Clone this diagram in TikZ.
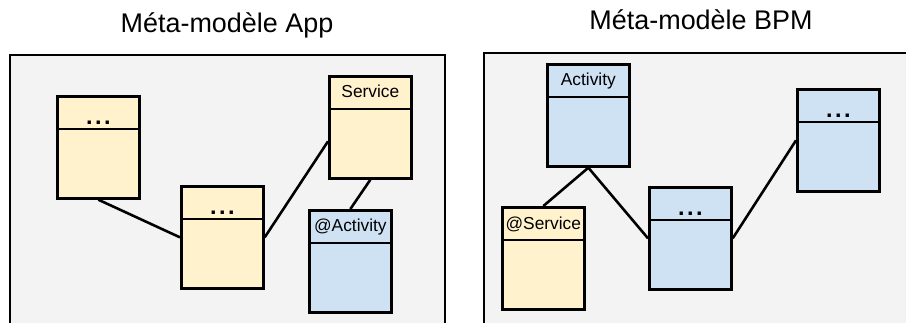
\documentclass[tikz,border=0pt]{standalone}
\usepackage{fontspec}
\setmainfont{Liberation Sans}
\usetikzlibrary{calc}
\definecolor{appyellow}{HTML}{FFF2CC}
\definecolor{bpmblue}{HTML}{CFE2F3}
\definecolor{panelgray}{HTML}{F3F3F3}
\newcommand{\classdots}{.\kern2.1pt.\kern2.1pt.}

\begin{document}
\begin{tikzpicture}[x=.03cm,y=-.03cm,
  panel/.style={fill=panelgray,draw=black,line width=1.9pt},
  classbox/.style={draw=black,line width=2.3pt,anchor=north west,inner sep=0pt,minimum width=2.46cm,minimum height=3.06cm},
  divider/.style={draw=black,line width=2.3pt},
  link/.style={draw=black,line width=2.2pt},
  title/.style={font=\fontsize{23}{27}\selectfont},
  classname/.style={font=\fontsize{14.8}{17}\selectfont,inner sep=0pt},
  dots/.style={font=\fontsize{20}{20}\selectfont\bfseries,anchor=base,inner sep=0pt}]
\useasboundingbox (0,0) rectangle (906,322);
\clip (0,0) rectangle (906,322);
% panels
\node[title] (apptitle) at (227,25) {Méta-modèle App};
\path[panel] (10,55) rectangle (445,340);
\node[title] (bpmtitle) at (701,20) {Méta-modèle BPM};
\path[panel] (484,53) rectangle (920,340);
% App classes
\node[classbox,fill=appyellow] (appA) at (56,95) {};
\draw[divider] ($(appA.north west)+(0,34)$) -- ($(appA.north east)+(0,34)$);
\node[dots] (appA-lbl) at ($(appA.north)+(0,29)$) {\classdots};
\node[classbox,fill=appyellow] (appB) at (180,185) {};
\draw[divider] ($(appB.north west)+(0,34)$) -- ($(appB.north east)+(0,34)$);
\node[dots] (appB-lbl) at ($(appB.north)+(0,29)$) {\classdots};
\node[classbox,fill=appyellow] (appSvc) at (328,75) {};
\draw[divider] ($(appSvc.north west)+(0,34)$) -- ($(appSvc.north east)+(0,34)$);
\node[classname] (appSvc-lbl) at ($(appSvc.north)+(0,16)$) {Service};
\node[classbox,fill=bpmblue] (appAct) at (308,209) {};
\draw[divider] ($(appAct.north west)+(0,34)$) -- ($(appAct.north east)+(0,34)$);
\node[classname] (appAct-lbl) at ($(appAct.north)+(0,18)$) {@Activity};
\draw[link] (appA.south) -- (appB.west);
\draw[link] (appB.east) -- ($(appSvc.west)+(0,14)$);
\draw[link] (appSvc.south) -- (appAct.north);
% BPM classes
\node[classbox,fill=bpmblue] (bpmAct) at (546,63) {};
\draw[divider] ($(bpmAct.north west)+(0,34)$) -- ($(bpmAct.north east)+(0,34)$);
\node[classname] (bpmAct-lbl) at ($(bpmAct.north)+(0,18)$) {Activity};
\node[classbox,fill=bpmblue] (bpmC) at (796,88) {};
\draw[divider] ($(bpmC.north west)+(0,34)$) -- ($(bpmC.north east)+(0,34)$);
\node[dots] (bpmC-lbl) at ($(bpmC.north)+(0,29)$) {\classdots};
\node[classbox,fill=bpmblue] (bpmB) at (648,186) {};
\draw[divider] ($(bpmB.north west)+(0,34)$) -- ($(bpmB.north east)+(0,34)$);
\node[dots] (bpmB-lbl) at ($(bpmB.north)+(0,29)$) {\classdots};
\node[classbox,fill=appyellow] (bpmSvc) at (501,206) {};
\draw[divider] ($(bpmSvc.north west)+(0,34)$) -- ($(bpmSvc.north east)+(0,34)$);
\node[classname] (bpmSvc-lbl) at ($(bpmSvc.north)+(0,18)$) {@Service};
\draw[link] (bpmAct.south) -- (bpmSvc.north);
\draw[link] (bpmAct.south) -- (bpmB.west);
\draw[link] (bpmB.east) -- (bpmC.west);
\end{tikzpicture}
\end{document}
